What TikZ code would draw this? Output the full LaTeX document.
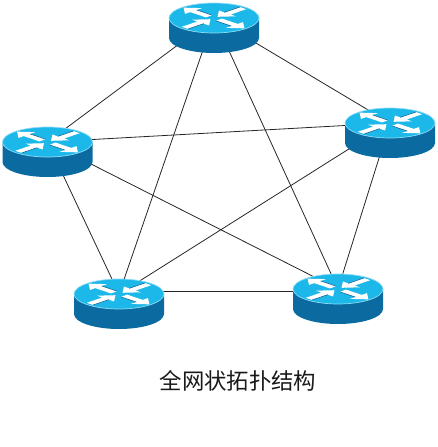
\documentclass[tikz,border=0pt]{standalone}
\usepackage{fontspec}
\newfontfamily\cjk{Noto Sans CJK SC}
\definecolor{routertop}{HTML}{1DB8EA}
\definecolor{routerrim}{HTML}{8FDDF5}
\definecolor{routerbody}{HTML}{0B6BA1}
\definecolor{routerdark}{HTML}{0A5C8C}
\tikzset{
  hub/.style={inner sep=0pt,minimum size=0pt},
  link/.style={draw=black!85,line width=0.6pt},
  caption/.style={font=\cjk\fontsize{16.8pt}{18pt}\selectfont,text=black!90}
}
\begin{document}
\begin{tikzpicture}[x=0.75pt,y=-0.75pt]
\useasboundingbox (0,0) rectangle (437,447);
\node[hub] (top) at (214,18) {};
\node[hub] (left) at (47.5,142) {};
\node[hub] (right) at (390,123) {};
\node[hub] (lowleft) at (119,294) {};
\node[hub] (lowright) at (338,289) {};
\foreach \a/\b in {top/left,top/right,top/lowleft,top/lowright,left/right,left/lowleft,left/lowright,right/lowleft,right/lowright} {
  \draw[link] (\a) -- (\b);
}
\draw[link] ([yshift=2.25pt]lowleft.center) -- ([yshift=-1.5pt]lowright.center);
\foreach \n in {top,left,right,lowleft,lowright} {
  \begin{scope}[shift={(\n)}]
    \fill[routerbody] (-45,0) -- (-45,20) arc[start angle=180,end angle=0,x radius=45,y radius=15] -- (45,0) -- cycle;
    \fill[routertop,draw=routerrim,line width=0.5pt] (0,0) ellipse[x radius=45,y radius=15];
    \begin{scope}[yscale=0.34]
      % arrows to the middle
      \foreach \r in {45,225} {
        \fill[white,rotate=\r] (5,0) -- (19,-12) -- (19,-4.5) -- (41,-4.5) -- (41,4.5) -- (19,4.5) -- (19,12) -- cycle;
        \draw[routerdark,line width=0.4pt,rotate=\r] (19,-4.5) -- (41,-4.5);
      }
      % arrows away from the middle
      \foreach \r in {135,315} {
        \fill[white,rotate=\r] (43,0) -- (29,-12) -- (29,-4.5) -- (7,-4.5) -- (7,4.5) -- (29,4.5) -- (29,12) -- cycle;
        \draw[routerdark,line width=0.4pt,rotate=\r] (7,4.5) -- (29,4.5);
      }
    \end{scope}
  \end{scope}
}
\node[caption] (title) at (238,381) {全网状拓扑结构};
\end{tikzpicture}
\end{document}
